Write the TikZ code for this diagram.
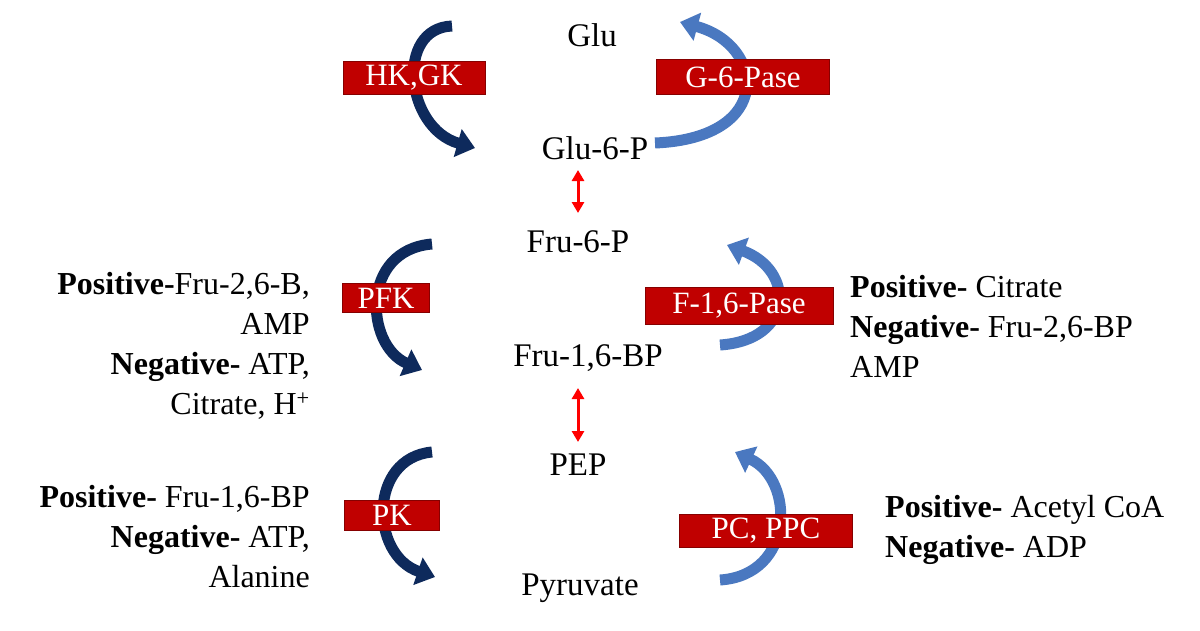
\documentclass[tikz,border=0pt]{standalone}
\usepackage{fontspec}
\setmainfont{Liberation Serif}
\usetikzlibrary{arrows.meta}
\definecolor{enz}{HTML}{C00000}
\definecolor{dblue}{HTML}{0E2A5C}
\definecolor{lblue}{HTML}{4A78C0}
\tikzset{
 met/.style={font=\fontsize{33}{36}\selectfont,inner sep=0pt},
 enzbox/.style={fill=enz,draw=enz!70!black,text=white,font=\fontsize{31}{33}\selectfont,inner sep=0pt},
 fwd/.style={draw=dblue,line width=11pt,-{Triangle[width=28pt,length=18pt]}},
 rev/.style={draw=lblue,line width=11pt,-{Triangle[width=28pt,length=18pt]}},
 eq/.style={draw=red,line width=3pt,{Triangle[length=11pt,width=12pt]}-{Triangle[length=11pt,width=12pt]}},
 reg/.style={font=\fontsize{32}{40}\selectfont,inner sep=0pt,align=right},
 regl/.style={font=\fontsize{32}{40}\selectfont,inner sep=0pt,align=left}
}
\begin{document}
\begin{tikzpicture}[x=1pt,y=-1pt]
\useasboundingbox (0,0) rectangle (1200,630);
\fill[white] (0,0) rectangle (1200,630);
\node[met] (glu) at (592,35) {Glu};
\node[met] (g6p) at (595,148) {Glu-6-P};
\node[met] (f6p) at (578,242) {Fru-6-P};
\node[met] (fbp) at (588,358) {Fru-1,6-BP};
\node[met] (pep) at (578,465) {PEP};
\node[met] (pyr) at (580,588) {Pyruvate};
\coordinate (a1) at (578,170); \coordinate (b1) at (578,213);
\draw[eq] (a1) -- (b1);
\coordinate (a2) at (578,388); \coordinate (b2) at (578,442);
\draw[eq] (a2) -- (b2);
% arcs
\coordinate (h1) at (452,26); \coordinate (h2) at (475,148);
\draw[fwd] (h1) .. controls (395,28) and (405,128) .. (h2);
\coordinate (g1) at (655,143); \coordinate (g2) at (680,22);
\draw[rev] (g1) .. controls (775,138) and (765,45) .. (g2);
\coordinate (p1) at (432,244); \coordinate (p2) at (422,370);
\draw[fwd] (p1) .. controls (360,250) and (365,345) .. (p2);
\coordinate (f1) at (720,345); \coordinate (f2) at (727,245);
\draw[rev] (f1) .. controls (795,340) and (795,270) .. (f2);
\coordinate (k1) at (432,452); \coordinate (k2) at (435,577);
\draw[fwd] (k1) .. controls (368,458) and (370,555) .. (k2);
\coordinate (c1) at (720,580); \coordinate (c2) at (735,452);
\draw[rev] (c1) .. controls (795,575) and (795,480) .. (c2);
% enzymes
\node[enzbox,minimum width=142pt,minimum height=33pt] (hk) at (414,78) {HK,GK};
\node[enzbox,minimum width=173pt,minimum height=35pt] (g6pase) at (743,77) {G-6-Pase};
\node[enzbox,minimum width=87pt,minimum height=29pt] (pfk) at (386,298) {PFK};
\node[enzbox,minimum width=188pt,minimum height=37pt] (f16) at (739,306) {F-1,6-Pase};
\node[enzbox,minimum width=95pt,minimum height=30pt] (pk) at (392,515) {PK};
\node[enzbox,minimum width=173pt,minimum height=33pt] (pc) at (766,531) {PC, PPC};
% regulators
\node[reg,anchor=north east] (r1) at (310,272) {\textbf{Positive-}Fru-2,6-B,\\AMP\\\textbf{Negative-} ATP,\\Citrate, H\textsuperscript{+}};
\node[regl,anchor=north west] (r2) at (850,275) {\textbf{Positive-} Citrate\\\textbf{Negative-} Fru-2,6-BP\\AMP};
\node[reg,anchor=north east] (r3) at (310,485) {\textbf{Positive-} Fru-1,6-BP\\\textbf{Negative-} ATP,\\Alanine};
\node[regl,anchor=north west] (r4) at (885,495) {\textbf{Positive-} Acetyl CoA\\\textbf{Negative-} ADP};
\end{tikzpicture}
\end{document}
